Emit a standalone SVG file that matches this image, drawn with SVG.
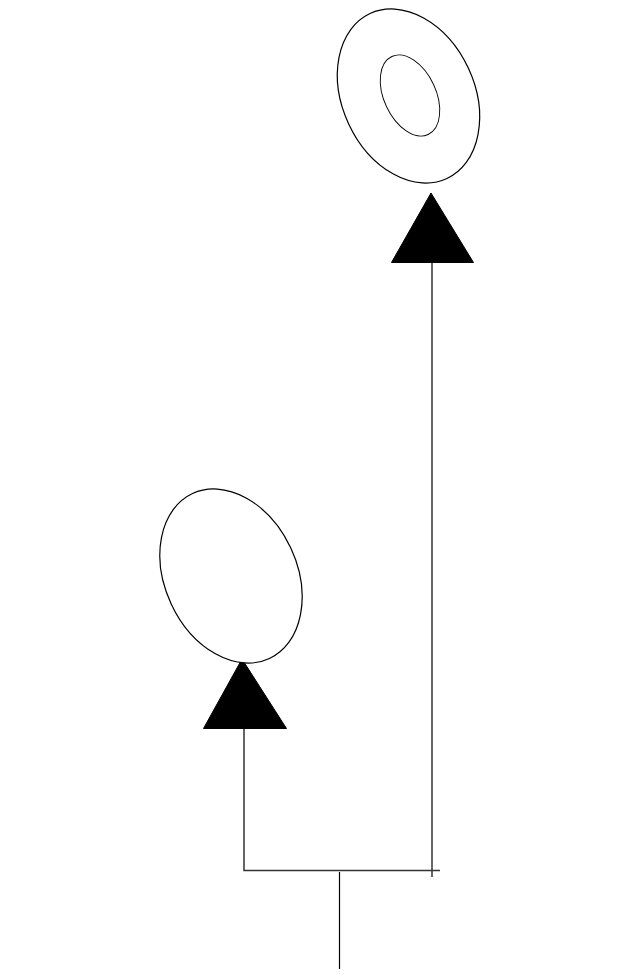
<svg xmlns="http://www.w3.org/2000/svg" width="640" height="980" viewBox="0 0 640 980">
<style>
.shape{fill:#fff;stroke:#000;stroke-width:1.2}
.inner{fill:none;stroke:#000;stroke-width:0.9}
.wire{fill:none;stroke:#333;stroke-width:1.5}
.head{fill:#000;stroke:#000;stroke-width:1}
</style>
<rect width="640" height="980" fill="#fff"/>
<g id="connectors">
<polyline class="wire" points="244,729 244,870.5 440,870.5"/>
<line class="wire" x1="432" y1="262" x2="432" y2="877"/>
<line class="wire" x1="339.5" y1="872" x2="339.5" y2="969" style="stroke:#000;stroke-width:1.2"/>
<polygon class="head" points="431,193 391.5,262.5 473.5,262.5"/>
<polygon class="head" points="242,659 203.5,728.5 286.5,728.5"/>
</g>
<g id="final-state">
<ellipse class="shape" cx="408.5" cy="96" rx="66" ry="91" transform="rotate(-25 408.5 96)"/>
<ellipse class="inner" cx="410" cy="95.5" rx="26" ry="43" transform="rotate(-25 410 95.5)"/>
</g>
<g id="state">
<ellipse class="shape" cx="231" cy="576" rx="66" ry="91" transform="rotate(-25 231 576)"/>
</g>
</svg>
